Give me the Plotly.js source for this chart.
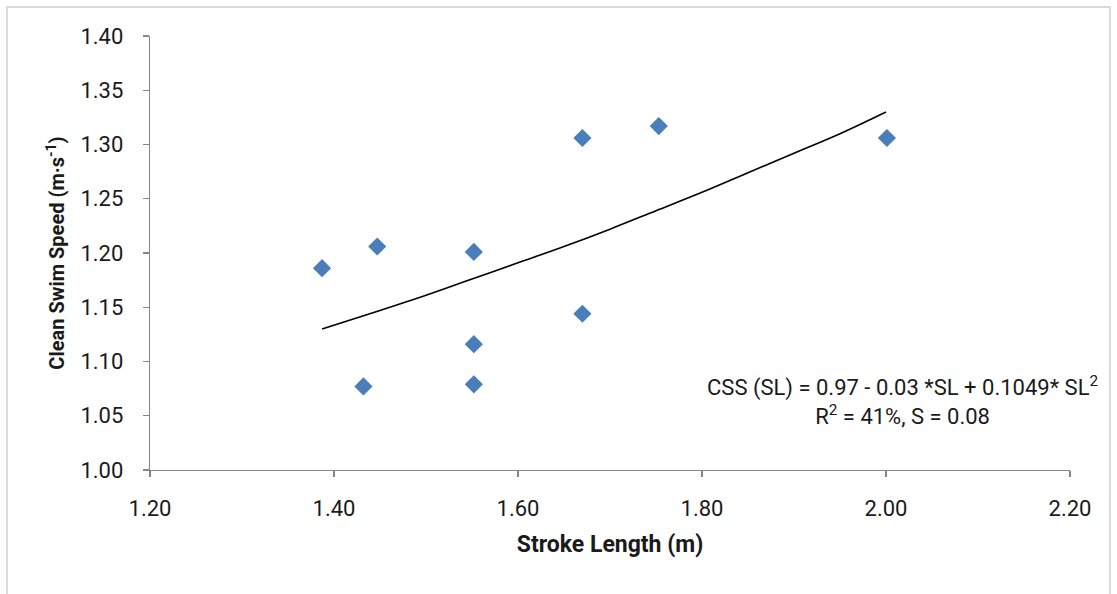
<!DOCTYPE html>
<html>
<head>
<meta charset="utf-8">
<script src="https://cdn.plot.ly/plotly-3.0.1.min.js"></script>
<style>html,body{margin:0;padding:0;background:#fff;}#chart{width:1117px;height:594px;}</style>
</head>
<body>
<div id="chart"></div>
<script>
var strokeLength = [1.387, 1.447, 1.432, 1.552, 1.552, 1.552, 1.670, 1.670, 1.753, 2.001];
var swimSpeed    = [1.186, 1.206, 1.077, 1.201, 1.116, 1.079, 1.144, 1.306, 1.317, 1.306];

// Fitted curve as drawn
var fitX = [1.387, 1.45, 1.50, 1.55, 1.60, 1.65, 1.70, 1.75, 1.80, 1.85, 1.90, 1.95, 2.00];
var fitY = [1.130, 1.147, 1.161, 1.176, 1.191, 1.206, 1.222, 1.239, 1.256, 1.274, 1.292, 1.310, 1.330];

// Axis ticks
var xTicks = [1.20, 1.40, 1.60, 1.80, 2.00, 2.20];
var xTickText = ["1.20", "1.40", "1.60", "1.80", "2.00", "2.20"];
var yTicks = [1.00, 1.05, 1.10, 1.15, 1.20, 1.25, 1.30, 1.35, 1.40];
var yTickText = ["1.00", "1.05", "1.10", "1.15", "1.20", "1.25", "1.30", "1.35", "1.40"];

var fontFam = "Roboto, 'Noto Sans', sans-serif";
var txtColor = '#1a1a1a';

var traces = [
  {
    x: fitX, y: fitY, type: 'scatter', mode: 'lines',
    line: {color: '#000000', width: 1.6, shape: 'spline'},
    hoverinfo: 'skip', showlegend: false
  },
  {
    x: strokeLength, y: swimSpeed, type: 'scatter', mode: 'markers',
    marker: {symbol: 'diamond', size: 14, color: '#4a7ebb'},
    showlegend: false
  }
];

var layout = {
  width: 1117, height: 594,
  margin: {l: 150, r: 47, t: 36, b: 124},
  paper_bgcolor: '#ffffff', plot_bgcolor: '#ffffff',
  font: {family: fontFam, size: 22, color: txtColor},
  showlegend: false,
  xaxis: {
    range: [1.20, 2.20], tickvals: xTicks, ticktext: xTickText,
    showgrid: false, zeroline: false, showline: true, linecolor: '#868686', linewidth: 1.3,
    ticks: 'outside', ticklen: 6, tickcolor: '#868686', tickwidth: 1.3,
    ticklabelstandoff: 12,
    tickfont: {family: fontFam, size: 22, color: txtColor},
    title: {text: '<b>Stroke Length (m)</b>', font: {family: fontFam, size: 23, color: txtColor}, standoff: 16}
  },
  yaxis: {
    range: [1.00, 1.40], tickvals: yTicks, ticktext: yTickText,
    showgrid: false, zeroline: false, showline: true, linecolor: '#868686', linewidth: 1.3,
    ticks: 'outside', ticklen: 6, tickcolor: '#868686', tickwidth: 1.3,
    ticklabelstandoff: 15,
    tickfont: {family: fontFam, size: 22, color: txtColor},
    title: {text: '<b>Clean Swim Speed (m·s<sup>-1</sup>)</b>', font: {family: fontFam, size: 20, color: txtColor}, standoff: 10}
  },
  annotations: [
    {
      xref: 'paper', yref: 'paper', x: 0.818, y: 0.161, xanchor: 'center', yanchor: 'middle',
      showarrow: false, align: 'center',
      text: 'CSS (SL) = 0.97 - 0.03 *SL + 0.1049* SL<sup>2</sup><br>R<sup>2</sup> = 41%, S = 0.08',
      font: {family: fontFam, size: 22, color: txtColor}
    }
  ],
  shapes: [
    {type: 'rect', xref: 'paper', yref: 'paper', x0: -0.1554, x1: 1.0435, y0: -0.35, y1: 1.0668,
     line: {color: '#d0d0d0', width: 1.5}, fillcolor: 'rgba(0,0,0,0)', layer: 'below'}
  ]
};

Plotly.newPlot('chart', traces, layout, {displayModeBar: false, staticPlot: true});
</script>
</body>
</html>
